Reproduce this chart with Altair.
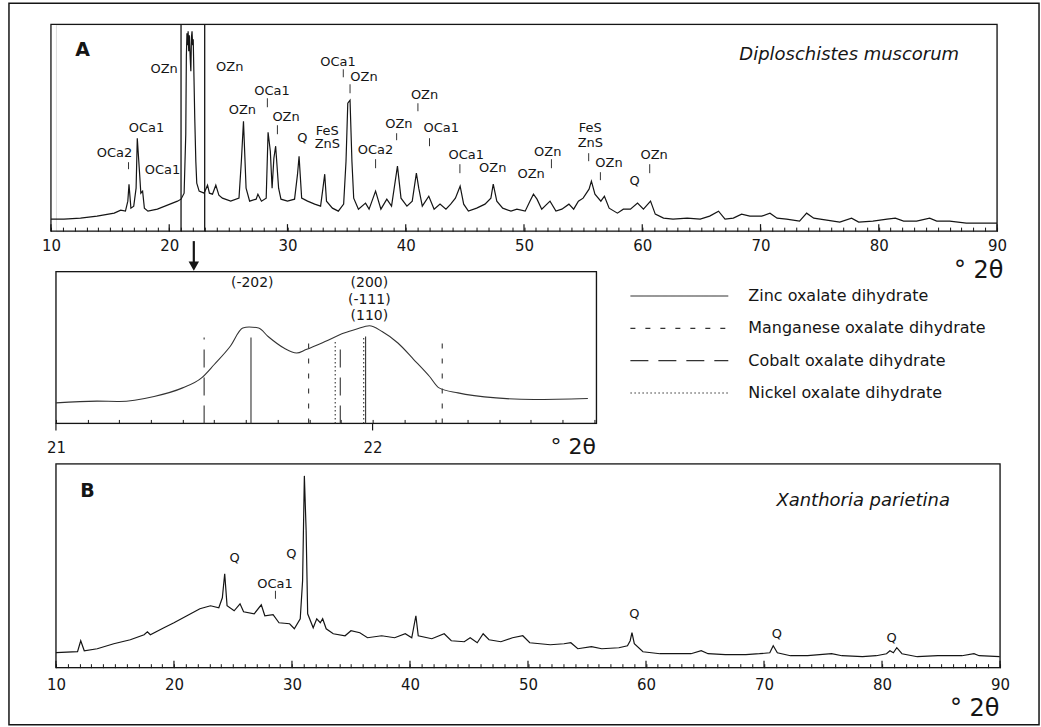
import altair as alt
import pandas as pd

INK = "#151515"
FONT = "DejaVu Sans"

# ---------------- Panel A : Diploschistes muscorum ----------------
A_2THETA = [
    10.0, 11.1, 12.5, 13.9, 15.35, 15.9, 16.3, 16.5, 16.6, 16.76,
    17.0, 17.2, 17.3, 17.5, 17.6, 17.75, 17.9, 18.2, 19.0, 19.85,
    20.7, 21.0, 21.26, 21.4, 21.45, 21.5, 21.55, 21.6, 21.65, 21.7,
    21.78, 21.83, 21.88, 21.93, 21.98, 22.03, 22.1, 22.16, 22.25, 22.33,
    22.53, 22.95, 23.24, 23.4, 23.66, 23.94, 24.2, 24.5, 25.2, 25.9,
    26.1, 26.28, 26.5, 26.8, 27.35, 27.5, 27.8, 28.2, 28.36, 28.55,
    28.7, 28.85, 29.0, 29.25, 29.45, 30.0, 30.6, 30.85, 30.98, 31.2,
    31.7, 32.3, 32.8, 33.0, 33.15, 33.3, 33.8, 34.3, 34.75, 34.95,
    35.1, 35.29, 35.45, 35.6, 36.0, 36.6, 36.9, 37.45, 37.9, 38.4,
    38.8, 39.3, 39.6, 40.1, 40.55, 40.9, 41.1, 41.4, 41.95, 42.4,
    42.9, 43.4, 43.8, 44.2, 44.6, 44.9, 45.3, 46.0, 46.7, 47.2,
    47.4, 47.7, 48.2, 48.9, 49.4, 50.1, 50.5, 50.8, 51.1, 51.5,
    52.2, 52.7, 53.2, 53.8, 54.2, 54.6, 55.0, 55.5, 55.7, 56.0,
    56.5, 56.8, 57.2, 57.9, 58.4, 59.0, 59.6, 60.1, 60.7, 61.1,
    61.8, 62.6, 63.8, 64.9, 65.7, 66.45, 67.0, 67.7, 68.4, 69.1,
    70.1, 70.8, 71.4, 72.2, 73.3, 73.9, 74.5, 75.6, 76.7, 77.7,
    78.3, 79.5, 80.7, 81.4, 82.1, 83.2, 84.3, 84.9, 86.0, 87.4,
    88.8, 90.0,
]
A_COUNTS = [
    12, 12, 13, 15, 18, 21, 20, 30, 47, 23,
    25, 43, 93, 57, 38, 40, 23, 20, 22, 26,
    30, 32, 38, 97, 175, 198, 186, 200, 180, 196,
    172, 160, 194, 200, 186, 192, 150, 113, 70, 48,
    40, 38, 46, 38, 37, 46, 36, 33, 30, 33,
    70, 110, 43, 30, 32, 37, 30, 33, 99, 80,
    43, 73, 85, 43, 32, 30, 32, 57, 75, 33,
    30, 27, 25, 43, 57, 30, 23, 20, 27, 70,
    128, 131, 70, 33, 22, 28, 22, 40, 22, 32,
    25, 65, 33, 25, 30, 58, 43, 25, 35, 22,
    27, 22, 27, 33, 45, 27, 20, 23, 27, 33,
    47, 30, 23, 20, 22, 20, 30, 37, 32, 22,
    30, 20, 22, 27, 22, 30, 33, 42, 50, 37,
    30, 35, 23, 18, 22, 22, 28, 22, 30, 17,
    13, 12, 13, 12, 15, 20, 12, 13, 17, 15,
    15, 18, 13, 12, 10, 18, 13, 11, 9, 13,
    9, 10, 12, 13, 10, 10, 13, 10, 10, 8,
    8, 8,
]

A_LABEL_TEXT = ["OCa2", "OCa1", "OCa1", "OZn", "OZn", "OZn", "OCa1", "OZn", "Q", "FeS",
                "ZnS", "OCa1", "OZn", "OCa2", "OZn", "OZn", "OCa1", "OCa1", "OZn", "OZn",
                "OZn", "FeS", "ZnS", "OZn", "Q", "OZn"]
A_LABEL_X = [15.37, 18.08, 19.43, 19.57, 25.12, 26.19, 28.69, 29.88, 31.26, 33.37,
             33.37, 34.27, 36.47, 37.45, 39.42, 41.59, 43.0, 45.11, 47.36, 50.6,
             52.01, 55.61, 55.61, 57.19, 59.36, 61.0]
A_LABEL_Y = [78, 103, 61, 162, 164, 121, 140, 114, 93, 100,
             87, 169, 154, 81, 107, 136, 103, 76, 63, 57,
             79, 103, 88, 68, 50, 76]

A_MARK_X = [16.56, 28.30, 29.15, 34.72, 35.29, 37.45, 39.23, 41.03, 42.01, 44.58, 52.32, 55.47, 56.46, 60.63]
A_MARK_LO = [62, 124, 97, 154, 138, 63, 91, 120, 85, 58, 63, 70, 51, 58]
A_MARK_HI = [69, 133, 106, 162, 147, 72, 98, 128, 93, 67, 72, 78, 59, 67]

A_BOX_2THETA = [21, 23]
A_TOP = 207
ARROW_2THETA = 22.08
ARROW_SHAFT = [-10, -31]
ARROW_TIP = -35

A_TAG = ("A", 12.68, 181)
A_SPECIES = ("Diploschistes muscorum", 77.5, 176)

# outer figure border, in panel-A units
BORDER_2THETA = [6.45, 93.55]
BORDER_COUNTS = [228, -494]

# ---------------- Inset : 21-22.7 deg zoom ----------------
INSET_2THETA = [21.0, 21.13, 21.2, 21.31, 21.4, 21.46, 21.5, 21.55, 21.59, 21.61,
                21.64, 21.67, 21.72, 21.76, 21.79, 21.85, 21.91, 21.95, 21.99, 22.03,
                22.08, 22.13, 22.18, 22.21, 22.27, 22.39, 22.51, 22.68]
INSET_COUNTS = [20.6, 22.3, 22, 27, 35.6, 45.6, 59, 77, 95.5, 96.5,
                95.5, 87, 75.5, 70.5, 74, 82, 90.5, 94.5, 97.8, 92,
                80.5, 64, 47, 35.6, 30.6, 25.6, 24, 25]
INSET_DOMAIN = [21, 22.707]
INSET_TOP = 152

REF_KIND = ["Cobalt", "Zinc", "Manganese", "Nickel", "Cobalt", "Nickel", "Zinc", "Manganese"]
REF_2THETA = [21.468, 21.616, 21.798, 21.882, 21.898, 21.972, 21.978, 22.22]
REF_TOP = [86, 86, 87, 84, 84, 86, 87, 87]

HKL_TEXT = ["(-202)", "(200)", "(-111)", "(110)"]
HKL_2THETA = [21.62, 21.99, 21.99, 21.99]
HKL_Y = [141, 141, 124, 108]

INSET_TICKS = [21.0, 21.1, 21.2, 21.3, 21.4, 21.5, 21.6, 21.7, 21.8, 21.9,
               22.0, 22.1, 22.2, 22.3, 22.4, 22.5, 22.6, 22.7]
INSET_MAJOR = [21, 22]

LEGEND_KIND = ["Zinc", "Manganese", "Cobalt", "Nickel"]
LEGEND_TEXT = ["Zinc oxalate dihydrate", "Manganese oxalate dihydrate",
               "Cobalt oxalate dihydrate", "Nickel oxalate dihydrate"]
DASH_PATTERNS = [[1, 0], [5, 10], [18, 10], [1.5, 2.5]]
LEGEND_SEG = [0, 1]

# ---------------- Panel B : Xanthoria parietina ----------------
B_2THETA = [
    10.0, 11.83, 12.1, 12.4, 13.5, 14.9, 16.3, 17.47, 17.75, 18.0,
    19.15, 20.0, 21.1, 22.2, 23.1, 23.8, 24.1, 24.3, 24.5, 25.1,
    25.6, 25.9, 26.8, 27.4, 27.7, 28.4, 28.9, 29.8, 30.2, 30.7,
    30.9, 31.05, 31.2, 31.33, 31.8, 32.1, 32.4, 32.6, 32.9, 33.5,
    34.5, 35.0, 35.75, 36.4, 37.6, 38.7, 39.6, 40.15, 40.5, 40.7,
    41.85, 42.9, 43.5, 44.6, 45.1, 45.7, 46.2, 46.7, 47.7, 48.69,
    49.56, 50.15, 51.89, 53.05, 53.63, 54.22, 55.38, 56.25, 57.7, 58.43,
    58.66, 58.81, 59.01, 59.74, 61.19, 62.94, 63.81, 64.68, 65.26, 66.72,
    68.46, 69.62, 70.49, 70.78, 71.13, 72.24, 73.69, 75.73, 76.6, 78.34,
    79.51, 80.38, 80.67, 80.96, 81.25, 81.69, 82.99, 84.74, 86.77, 87.79,
    88.23, 89.97,
]
B_COUNTS = [
    15, 16, 27, 17, 19, 24, 28, 33, 36, 33,
    40, 45, 52, 59, 62, 60, 70, 94, 62, 57,
    64, 56, 54, 63, 52, 53, 45, 44, 39, 49,
    87, 192, 137, 54, 40, 49, 45, 49, 39, 34,
    32, 37, 35, 30, 32, 30, 34, 30, 52, 32,
    29, 34, 27, 26, 30, 25, 34, 28, 26, 30,
    32, 25, 23, 24, 25, 19, 21, 19, 20, 22,
    27, 35, 24, 16, 14, 14, 14, 17, 14, 13,
    13, 14, 15, 22, 15, 12, 12, 14, 12, 11,
    12, 14, 17, 15, 20, 14, 11, 12, 12, 14,
    12, 11,
]
B_TOP = 204

B_LABEL_TEXT = ["Q", "OCa1", "Q", "Q", "Q", "Q"]
B_LABEL_X = [25.15, 28.57, 29.95, 59.01, 71.08, 80.81]
B_LABEL_Y = [110, 84, 114, 54, 34, 30]
B_MARK_X = [28.6]
B_MARK_LO = [69]
B_MARK_HI = [77]
B_TAG = ("B", 12.68, 177)
B_SPECIES = ("Xanthoria parietina", 78.4, 167)

MAJOR_TICKS = [10, 20, 30, 40, 50, 60, 70, 80, 90]
MINOR_TICKS = list(range(10, 91))
TICK_UP = 7      # length of the inward major ticks (style)
TICK_DOWN = -7   # length of the outward inset ticks (style)

# ---------------- scales & axes ----------------
scA_x = alt.Scale(domain=[10, 90], range=[-5, 942], nice=False, zero=False)
scA_y = alt.Scale(domain=[0, A_TOP], nice=False, zero=False)
scI_x = alt.Scale(domain=INSET_DOMAIN, nice=False, zero=False)
scI_y = alt.Scale(domain=[0, INSET_TOP], nice=False, zero=False)
scB_x = alt.Scale(domain=[10, 90], nice=False, zero=False)
scB_y = alt.Scale(domain=[0, B_TOP], nice=False, zero=False)
scL_x = alt.Scale(domain=[0, 1], range=[575, 673], nice=False, zero=False)
scL_y = alt.Scale(domain=[0, 3], range=[24.5, 121.5], nice=False, zero=False)
dash_scale = alt.Scale(domain=LEGEND_KIND, range=DASH_PATTERNS)


def make_axis(values, expr, pad, tx, ty, tsize):
    return alt.Axis(values=values, labelExpr=expr, tickSize={"expr": "-4"},
                    tickColor=INK, tickWidth=1, domain=False, grid=False,
                    labelPadding=pad, labelFont=FONT, labelFontSize=15, labelColor=INK,
                    labelFlush=False, labelOverlap=False, labelAngle=0,
                    title="° 2θ", titleFont=FONT, titleFontSize=tsize, titleFontWeight="normal",
                    titleColor=INK, titleX=tx, titleY=ty, titleAlign="right",
                    titleBaseline="alphabetic", titleAngle=0)


axA = make_axis(MINOR_TICKS, "datum.value % 10 === 0 ? datum.label : ''", 11.5, 948, 46.5, 24)
axB = make_axis(MINOR_TICKS, "datum.value % 10 === 0 ? datum.label : ''", 13.5, 944, 48, 24)
axI = make_axis(INSET_TICKS, "abs(datum.value - round(datum.value)) < 0.001 ? format(datum.value, 'd') : ''",
                21, 540, 30, 22)


def X(field, sc, ax):
    return alt.X(field, type="quantitative", scale=sc, axis=ax)


def Y(field, sc):
    return alt.Y(field, type="quantitative", scale=sc, axis=None)


def text_layer(df, sc_x, sc_y, ax, size, **kw):
    return alt.Chart(df).mark_text(font=FONT, fontSize=size, color=INK, align="center",
                                   baseline="middle", **kw).encode(
        x=X("x", sc_x, ax), y=Y("y", sc_y), text="t:N")


def rect_layer(x0, x1, y0, y1, sc_x, sc_y, ax, width):
    df = pd.DataFrame({"x": [x0], "x2": [x1], "y": [y0], "y2": [y1]})
    return alt.Chart(df).mark_rect(filled=False, color=INK, strokeWidth=width).encode(
        x=X("x", sc_x, ax), x2="x2", y=Y("y", sc_y), y2="y2")


def rules_layer(xs, y0s, y1s, sc_x, sc_y, ax, color=INK, width=1.2):
    df = pd.DataFrame({"x": xs, "y": y0s, "y2": y1s})
    return alt.Chart(df).mark_rule(color=color, strokeWidth=width).encode(
        x=X("x", sc_x, ax), y=Y("y", sc_y), y2="y2")


def spectrum_panel(xs, ys, sc_x, sc_y, ax, top, labels, marks, tag, species):
    lt, lx, ly = labels
    mx, mlo, mhi = marks
    frame = rect_layer(10, 90, 0, top, sc_x, sc_y, ax, 1.3)
    line = alt.Chart(pd.DataFrame({"x": xs, "y": ys})).mark_line(
        color=INK, strokeWidth=1.2).encode(x=X("x", sc_x, ax), y=Y("y", sc_y))
    major = rules_layer(MAJOR_TICKS, [0] * len(MAJOR_TICKS), [TICK_UP] * len(MAJOR_TICKS),
                        sc_x, sc_y, ax)
    pk_marks = rules_layer(mx, mlo, mhi, sc_x, sc_y, ax, color="#333", width=1)
    pk_text = text_layer(pd.DataFrame({"x": lx, "y": ly, "t": lt}), sc_x, sc_y, ax, 13)
    tag_t = text_layer(pd.DataFrame({"x": [tag[1]], "y": [tag[2]], "t": [tag[0]]}),
                       sc_x, sc_y, ax, 19, fontWeight="bold")
    sp_t = text_layer(pd.DataFrame({"x": [species[1]], "y": [species[2]], "t": [species[0]]}),
                      sc_x, sc_y, ax, 18, fontStyle="italic")
    return [frame, line, major, pk_marks, pk_text, tag_t, sp_t]


# ---------------- Panel A ----------------
layersA = spectrum_panel(A_2THETA, A_COUNTS, scA_x, scA_y, axA, A_TOP,
                         (A_LABEL_TEXT, A_LABEL_X, A_LABEL_Y),
                         (A_MARK_X, A_MARK_LO, A_MARK_HI), A_TAG, A_SPECIES)
border = rect_layer(BORDER_2THETA[0], BORDER_2THETA[1], BORDER_COUNTS[0], BORDER_COUNTS[1],
                    scA_x, scA_y, axA, 1.5)
box = rules_layer(A_BOX_2THETA, [0, 0], [A_TOP, A_TOP], scA_x, scA_y, axA, width=1.3)
shaft = rules_layer([ARROW_2THETA], [ARROW_SHAFT[0]], [ARROW_SHAFT[1]], scA_x, scA_y, axA, width=2.2)
head = alt.Chart(pd.DataFrame({"x": [ARROW_2THETA], "y": [ARROW_TIP]})).mark_point(
    shape="triangle-down", filled=True, size=110, color=INK, opacity=1).encode(
    x=X("x", scA_x, axA), y=Y("y", scA_y))
panelA = alt.layer(border, *layersA, box, shaft, head).properties(width=942, height=207)

# ---------------- Inset + legend (independent scales, one axis only) ----------------
frameI = rect_layer(INSET_DOMAIN[0], INSET_DOMAIN[1], 0, INSET_TOP, scI_x, scI_y, axI, 1.3)
lineI = alt.Chart(pd.DataFrame({"x": INSET_2THETA, "y": INSET_COUNTS})).mark_line(
    color="#333", strokeWidth=1.1, interpolate="monotone").encode(
    x=X("x", scI_x, None), y=Y("y", scI_y))
refsI = alt.Chart(pd.DataFrame({"x": REF_2THETA, "y": [0] * len(REF_2THETA), "y2": REF_TOP,
                                "kind": REF_KIND})).mark_rule(
    color="#333", strokeWidth=1.1).encode(
    x=X("x", scI_x, None), y=Y("y", scI_y), y2="y2",
    strokeDash=alt.StrokeDash("kind:N", scale=dash_scale, legend=None))
hklI = text_layer(pd.DataFrame({"x": HKL_2THETA, "y": HKL_Y, "t": HKL_TEXT}), scI_x, scI_y, None, 14)
majI = rules_layer(INSET_MAJOR, [0, 0], [TICK_DOWN, TICK_DOWN], scI_x, scI_y, None)

leg_df = pd.DataFrame({"kind": LEGEND_KIND, "label": LEGEND_TEXT,
                       "row": list(range(len(LEGEND_KIND))),
                       "a": [LEGEND_SEG[0]] * 4, "b": [LEGEND_SEG[1]] * 4})
leg_lines = alt.Chart(leg_df).mark_rule(color="#333", strokeWidth=1.1).encode(
    x=alt.X("a", type="quantitative", scale=scL_x, axis=None), x2="b",
    y=alt.Y("row", type="quantitative", scale=scL_y, axis=None),
    strokeDash=alt.StrokeDash("kind:N", scale=dash_scale, legend=None))
leg_text = alt.Chart(leg_df).mark_text(font=FONT, fontSize=16, color=INK, align="left",
                                       baseline="middle", dx=20).encode(
    x=alt.X("b", type="quantitative", scale=scL_x, axis=None),
    y=alt.Y("row", type="quantitative", scale=scL_y, axis=None), text="label:N")

row2 = alt.layer(frameI, lineI, refsI, hklI, majI, leg_lines, leg_text).resolve_scale(
    x="independent", y="independent").properties(width=541, height=152)

# ---------------- Panel B ----------------
layersB = spectrum_panel(B_2THETA, B_COUNTS, scB_x, scB_y, axB, B_TOP,
                         (B_LABEL_TEXT, B_LABEL_X, B_LABEL_Y),
                         (B_MARK_X, B_MARK_LO, B_MARK_HI), B_TAG, B_SPECIES)
panelB = alt.layer(*layersB).properties(width=945, height=204)

chart = alt.vconcat(panelA, row2, panelB, spacing=40.5, bounds="flush",
                    padding={"left": 7, "top": 1, "right": 0, "bottom": 0}).configure_view(
    strokeWidth=0).configure(background="white")

chart.save("out.html", embed_options={"renderer": "svg", "actions": False})
